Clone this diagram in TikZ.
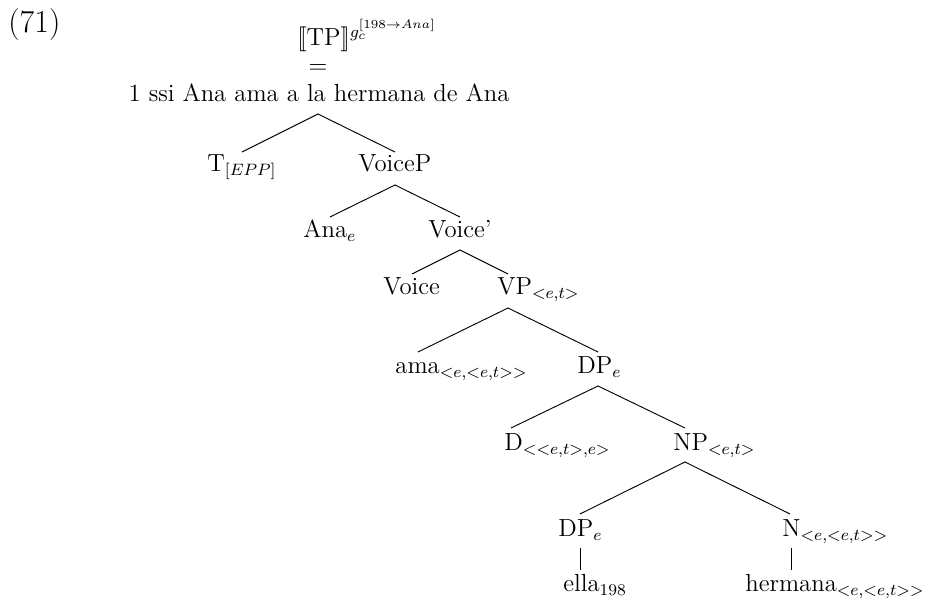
\documentclass[12pt,tikz,border=0pt]{standalone}
\begin{document}
\begin{tikzpicture}[x=0.4854pt,y=-0.4854pt,
  lbl/.style={inner sep=0pt,anchor=base west},
  ctr/.style={inner sep=0pt,anchor=base},
  br/.style={line width=0.45pt}]
\useasboundingbox (0,0) rectangle (928,601);
% labels
\node[lbl,font=\fontsize{15.5}{18}\selectfont] (ex) at (8,33) {(71)};
\node[lbl] (tp) at (297,46) {$[\![\mathrm{TP}]\!]^{g_c^{[198\rightarrow Ana]}}$};
\node[ctr] (eq) at (318,74) {$=$};
\node[ctr] (root) at (319,102) {1 ssi Ana ama a la hermana de Ana};
\node[lbl] (t) at (207,172) {T$_{[EPP]}$};
\node[lbl] (voicep) at (358,172) {VoiceP};
\node[lbl] (ana) at (303,238) {Ana$_{e}$};
\node[lbl] (voicebar) at (428,238) {Voice'};
\node[lbl] (voice) at (383,295) {Voice};
\node[lbl] (vp) at (497,295) {VP$_{<e,t>}$};
\node[lbl] (ama) at (395,374) {ama$_{<e,<e,t>>}$};
\node[lbl] (dp) at (577,374) {DP$_{e}$};
\node[lbl] (d) at (504,451) {D$_{<<e,t>,e>}$};
\node[lbl] (np) at (673,451) {NP$_{<e,t>}$};
\node[lbl] (dp2) at (558,537) {DP$_{e}$};
\node[lbl] (n) at (782,537) {N$_{<e,<e,t>>}$};
\node[lbl] (ella) at (563,592) {ella$_{198}$};
\node[lbl] (herm) at (745,592) {hermana$_{<e,<e,t>>}$};
% branch points
\coordinate (root-a) at (318,114);
\coordinate (t-e) at (242,152);
\coordinate (voicep-e) at (395,152);
\coordinate (voicep-a) at (395,185);
\coordinate (ana-e) at (330,217);
\coordinate (voicebar-e) at (460,217);
\coordinate (voicebar-a) at (460,250);
\coordinate (voice-e) at (412,274);
\coordinate (vp-e) at (508,274);
\coordinate (vp-a) at (508,308);
\coordinate (ama-e) at (418,352);
\coordinate (dp-e) at (598,352);
\coordinate (dp-a) at (598,386);
\coordinate (d-e) at (511,428);
\coordinate (np-e) at (685,428);
\coordinate (np-a) at (685,462);
\coordinate (dp2-e) at (580,514);
\coordinate (n-e) at (790,514);
\coordinate (dp2-a) at (580,548);
\coordinate (ella-e) at (580,570);
\coordinate (n-a) at (791,548);
\coordinate (herm-e) at (791,570);
% branches
\draw[br] (t-e) -- (root-a) -- (voicep-e);
\draw[br] (ana-e) -- (voicep-a) -- (voicebar-e);
\draw[br] (voice-e) -- (voicebar-a) -- (vp-e);
\draw[br] (ama-e) -- (vp-a) -- (dp-e);
\draw[br] (d-e) -- (dp-a) -- (np-e);
\draw[br] (dp2-e) -- (np-a) -- (n-e);
\draw[br] (dp2-a) -- (ella-e);
\draw[br] (n-a) -- (herm-e);
\end{tikzpicture}
\end{document}
